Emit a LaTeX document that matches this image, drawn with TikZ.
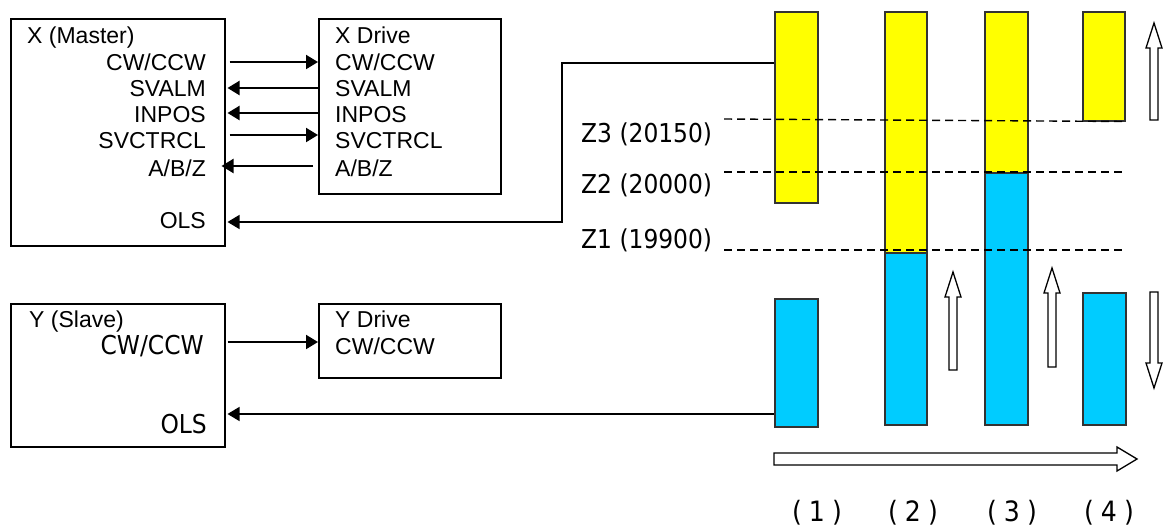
\documentclass[tikz,border=0pt]{standalone}
\usepackage{fontspec}
\usetikzlibrary{arrows.meta}
\newfontfamily\arialf{Liberation Sans}
\newfontfamily\verdf{DejaVu Sans Condensed}
\definecolor{yel}{HTML}{FFFF00}
\definecolor{cyn}{HTML}{00CCFF}
\definecolor{edge}{HTML}{333333}
\newcommand\holup[3]{\draw[hol] (#1-4,#2) -- (#1-4,#3+25) -- (#1-8,#3+25) -- (#1,#3) -- (#1+8,#3+25) -- (#1+4,#3+25) -- (#1+4,#2) -- cycle;}
\newcommand\holdown[3]{\draw[hol] (#1-4,#2) -- (#1-4,#3-25) -- (#1-8,#3-25) -- (#1,#3) -- (#1+8,#3-25) -- (#1+4,#3-25) -- (#1+4,#2) -- cycle;}
\begin{document}
\begin{tikzpicture}[x=1pt,y=-1pt,
  box/.style={draw, line width=1.5pt, inner sep=0, anchor=north west},
  lbl/.style={inner sep=0, font=\arialf\fontsize{23}{26}\selectfont},
  vlbl/.style={inner sep=0, font=\verdf\fontsize{26}{30}\selectfont},
  nlbl/.style={inner sep=0, font=\verdf\fontsize{28}{32}\selectfont},
  sig/.style={line width=2pt, -{Triangle[length=12pt,width=14pt]}},
  olsl/.style={line width=1.4pt, -{Triangle[length=12pt,width=14pt]}},
  bar/.style={draw=edge, line width=1.5pt, inner sep=0, anchor=north west},
  zline/.style={line width=1.4pt, dash pattern=on 8pt off 5pt},
  hol/.style={draw=black, fill=white, line width=1.3pt}]
\useasboundingbox (0,0) rectangle (1165,528);

% boxes
\node[box, minimum width=214pt, minimum height=227pt] (xm) at (10,18) {};
\node[box, minimum width=182pt, minimum height=175pt] (xd) at (318,18) {};
\node[box, minimum width=214pt, minimum height=143pt] (ym) at (10,303) {};
\node[box, minimum width=182pt, minimum height=74pt] (yd) at (318,303) {};

% master labels
\node[lbl, anchor=base west] (xmt) at (27,43) {X (Master)};
\node[lbl, anchor=base east] (xm1) at (206,70) {CW/CCW};
\node[lbl, anchor=base east] (xm2) at (206,96) {SVALM};
\node[lbl, anchor=base east] (xm3) at (206,122) {INPOS};
\node[lbl, anchor=base east] (xm4) at (206,148) {SVCTRCL};
\node[lbl, anchor=base east] (xm5) at (206,176) {A/B/Z};
\node[lbl, anchor=base east] (xm6) at (206,228) {OLS};
% X drive labels
\node[lbl, anchor=base west] (xdt) at (335,43) {X Drive};
\node[lbl, anchor=base west] (xd1) at (335,70) {CW/CCW};
\node[lbl, anchor=base west] (xd2) at (335,96) {SVALM};
\node[lbl, anchor=base west] (xd3) at (335,122) {INPOS};
\node[lbl, anchor=base west] (xd4) at (335,148) {SVCTRCL};
\node[lbl, anchor=base west] (xd5) at (335,176) {A/B/Z};
% Y labels
\node[lbl, anchor=base west] (ymt) at (29,327) {Y (Slave)};
\node[vlbl, anchor=base east] (ym1) at (204,354) {CW/CCW};
\node[vlbl, anchor=base east] (ym2) at (207,433) {OLS};
\node[lbl, anchor=base west] (ydt) at (335,327) {Y Drive};
\node[lbl, anchor=base west] (yd1) at (335,354) {CW/CCW};

% signal arrows
\draw[sig] ([xshift=4pt]xm.east |- 0,62) -- (xd.west |- 0,62);
\draw[sig] (xd.west |- 0,88) -- ([xshift=2pt]xm.east |- 0,88);
\draw[sig] (xd.west |- 0,113) -- ([xshift=2pt]xm.east |- 0,113);
\draw[sig] ([xshift=4pt]xm.east |- 0,135) -- (xd.west |- 0,135);
\draw[sig] ([xshift=-5pt]xd.west |- 0,166) -- ([xshift=-4pt]xm.east |- 0,166);
\draw[sig] ([xshift=2pt]ym.east |- 0,342) -- (yd.west |- 0,342);

% bars
\node[bar, fill=yel, minimum width=43pt, minimum height=191pt] (b1y) at (774,11) {};
\node[bar, fill=cyn, minimum width=43pt, minimum height=128pt] (b1b) at (774,298) {};
\node[bar, fill=yel, minimum width=42pt, minimum height=241pt] (b2y) at (884,11) {};
\node[bar, fill=cyn, minimum width=42pt, minimum height=172pt] (b2b) at (884,252) {};
\node[bar, fill=yel, minimum width=43pt, minimum height=161pt] (b3y) at (984,11) {};
\node[bar, fill=cyn, minimum width=43pt, minimum height=252pt] (b3b) at (984,172) {};
\node[bar, fill=yel, minimum width=42pt, minimum height=109pt] (b4y) at (1082,11) {};
\node[bar, fill=cyn, minimum width=43pt, minimum height=132pt] (b4b) at (1082,292) {};

% OLS feedback lines
\draw[olsl] ([yshift=-52pt]b1y.north west) -| (562,222) -- ([xshift=2pt]xm.east |- 0,222);
\draw[olsl] ([yshift=-116pt]b1b.north west) -- ([xshift=2pt]ym.east |- 0,414);

% Z levels
\node[vlbl, anchor=base west] (z3) at (581,142) {Z3 (20150)};
\node[vlbl, anchor=base west] (z2) at (581,193) {Z2 (20000)};
\node[vlbl, anchor=base west] (z1) at (581,248) {Z1 (19900)};
\draw[zline] (724,119) -- (b4y.south east);
\draw[zline] (724,172) -- (1122,172);
\draw[zline] (724,250) -- (1122,250);

% hollow arrows
\holup{953}{370}{272}
\holup{1052}{367}{268}
\holup{1154}{120}{23}
\holdown{1154}{292}{388}
\draw[hol] (774,453) -- (1117,453) -- (1117,447) -- (1137,459) -- (1117,471) -- (1117,465) -- (774,465) -- cycle;

% step labels
\node[nlbl, anchor=base] (s1) at (817,521) {(\hspace{7pt}1\hspace{7pt})};
\node[nlbl, anchor=base] (s2) at (913,521) {(\hspace{7pt}2\hspace{7pt})};
\node[nlbl, anchor=base] (s3) at (1012,521) {(\hspace{7pt}3\hspace{7pt})};
\node[nlbl, anchor=base] (s4) at (1109,521) {(\hspace{7pt}4\hspace{7pt})};
\end{tikzpicture}
\end{document}
